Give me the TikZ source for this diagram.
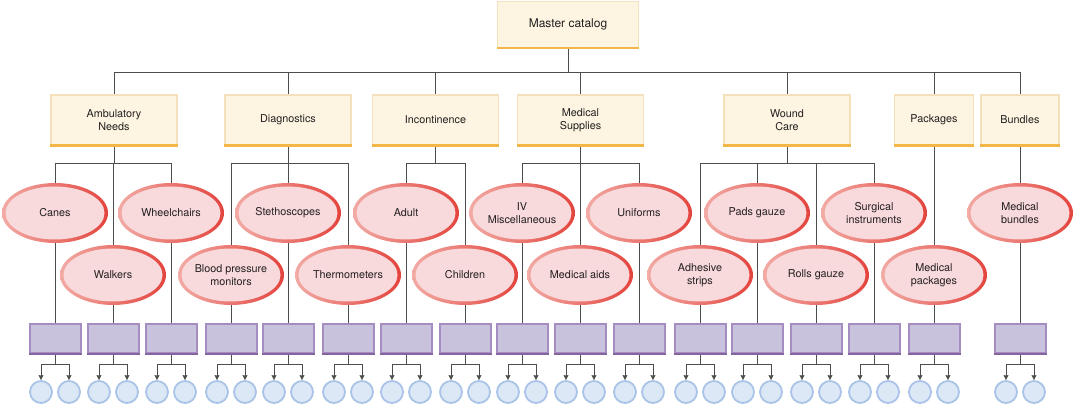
\documentclass[tikz,border=0pt]{standalone}
\usepackage{fontspec}
\setmainfont{TeX Gyre Heros}
\usepackage{tikz}
\usetikzlibrary{shapes.geometric, arrows.meta, backgrounds, calc}
\definecolor{catfill}{HTML}{FDF5E2}
\definecolor{catedge}{HTML}{F4E0BA}
\definecolor{catbottom}{HTML}{F2B746}
\definecolor{leaffill}{HTML}{F8D9DC}
\definecolor{ringlight}{HTML}{F2ABA5}
\definecolor{ringdark}{HTML}{E3443D}
\definecolor{prodfill}{HTML}{C9C2DC}
\definecolor{prodedge}{HTML}{A58DC1}
\definecolor{prodbottom}{HTML}{8664A0}
\definecolor{dotfill}{HTML}{DCE8F6}
\definecolor{dotedge}{HTML}{A9C4E7}
\definecolor{wire}{HTML}{4D4D4D}
\definecolor{inktext}{HTML}{231F20}

\tikzset{
  labeltext/.style={font=\fontsize{10.8}{12.7}\selectfont, text=inktext, align=center},
  catbox/.style={labeltext, rectangle, fill=catfill, draw=catedge, line width=1.5pt,
    minimum width=126pt, minimum height=50pt, inner sep=0pt,
    append after command={(\tikzlastnode.south west) edge[draw=catbottom, line width=2.5pt] (\tikzlastnode.south east)}},
  leaf/.style={labeltext, ellipse, minimum width=106pt, minimum height=60pt, inner sep=0pt,
    left color=ringlight, right color=ringdark,
    path picture={\fill[leaffill] (path picture bounding box.center) ellipse[x radius=49.5pt, y radius=26.5pt];}},
  prodbox/.style={rectangle, fill=prodfill, draw=prodedge, line width=2pt,
    minimum width=51pt, minimum height=29pt, inner sep=0pt,
    append after command={(\tikzlastnode.south west) edge[draw=prodbottom, line width=2.5pt] (\tikzlastnode.south east)}},
  itemdot/.style={circle, fill=dotfill, draw=dotedge, line width=1.8pt, minimum size=22pt, inner sep=0pt},
  wireline/.style={draw=wire, line width=0.8pt}
}

\begin{document}
\begin{tikzpicture}[x=1pt, y=-1pt, >={Stealth[length=5pt,width=5pt,inset=0.5pt]}]
  \useasboundingbox (0,0) rectangle (1077,406);

  % levels of the tree
  \coordinate (topbus) at (0,72);
  \coordinate (subbus) at (0,163);
  \coordinate (branch) at (0,364);

  % root
  \node[catbox, minimum width=141pt, minimum height=46pt, font=\fontsize{12}{14}\selectfont] (master) at (568,24.5) {Master catalog};

  % categories
  \node[catbox] (amb) at (114,120) {Ambulatory\\Needs};
  \node[catbox] (diag) at (288,120) {Diagnostics};
  \node[catbox] (incont) at (435.5,120) {Incontinence};
  \node[catbox] (medsup) at (580.5,120) {Medical\\Supplies};
  \node[catbox] (wound) at (787,120) {Wound\\Care};
  \node[catbox, minimum width=79pt] (pack) at (934,120) {Packages};
  \node[catbox, minimum width=78pt] (bund) at (1020,120) {Bundles};

  % sub-categories, each with its product box and two items
  \foreach \leaf/\x/\y/\txt in {
      canes/55/213/Canes, walk/113/275/Walkers, wheel/171/213/Wheelchairs,
      bpm/231/275/{Blood pressure\\monitors}, steth/288/213/Stethoscopes,
      thermo/348/275/Thermometers, adult/406/213/Adult, child/465/275/Children,
      ivmisc/522/213/{IV\\Miscellaneous}, aids/580/275/{Medical aids},
      unif/639/213/Uniforms, adhes/700/275/{Adhesive\\strips},
      pads/757/213/{Pads gauze}, rolls/816/275/{Rolls gauze},
      surg/874/213/{Surgical\\instruments}, mpack/934/275/{Medical\\packages},
      mbund/1020/213/{Medical\\bundles}} {
    \node[leaf] (\leaf) at (\x,\y) {\txt};
    \node[prodbox] (p\leaf) at (\x,338.5) {};
    \node[itemdot] (\leaf1) at (\x-14,392) {};
    \node[itemdot] (\leaf2) at (\x+14,392) {};
  }

  \begin{scope}[on background layer]
    % root to categories
    \draw[wireline] (master) -- (master |- topbus);
    \draw[wireline] (amb |- topbus) -- (bund |- topbus);
    \foreach \c in {amb,diag,incont,medsup,wound,pack,bund}
      \draw[wireline] (\c |- topbus) -- (\c);

    % categories to sub-categories
    \foreach \c/\a/\b in {amb/canes/wheel, diag/bpm/thermo, incont/adult/child,
        medsup/ivmisc/unif, wound/adhes/surg, pack/mpack/mpack, bund/mbund/mbund} {
      \draw[wireline] (\c) -- (\c |- subbus);
      \draw[wireline] (\a |- subbus) -- (\b |- subbus);
    }

    % lines run behind the ellipses down to the product boxes
    \foreach \leaf in {canes,walk,wheel,bpm,steth,thermo,adult,child,ivmisc,
        aids,unif,adhes,pads,rolls,surg,mpack,mbund} {
      \draw[wireline] (\leaf |- subbus) -- (p\leaf);
      \draw[wireline] (p\leaf) -- (p\leaf |- branch);
      \draw[wireline, ->] (p\leaf |- branch) -| (\leaf1);
      \draw[wireline, ->] (p\leaf |- branch) -| (\leaf2);
    }
  \end{scope}
\end{tikzpicture}
\end{document}
